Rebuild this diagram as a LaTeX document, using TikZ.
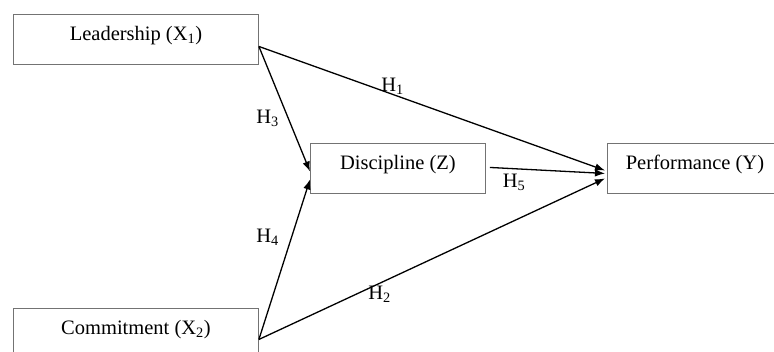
\documentclass[tikz,border=0pt]{standalone}
\usepackage{fontspec}
\setmainfont{Liberation Serif}
\usetikzlibrary{arrows.meta}
\begin{document}
\begin{tikzpicture}[x=1pt,y=-1pt,
  box/.style={draw=black!55, line width=0.9pt, fill=white, inner xsep=0pt, inner ysep=0pt,
    text height=26pt, text depth=24pt, minimum height=50pt, anchor=north west,
    font=\fontsize{20.5}{24}\selectfont},
  conn/.style={line width=1.3pt, -{Latex[length=10pt,width=7.5pt]}},
  hlab/.style={anchor=base, inner sep=0pt, font=\fontsize{20.5}{24}\selectfont}]
\useasboundingbox (0,0) rectangle (774,351);
\clip (0,0) rectangle (774,351);
\node[box, minimum width=245pt] (lead) at (13,14) {Leadership (X\textsubscript{1})};
\node[box, minimum width=245pt] (comm) at (13,308) {Commitment (X\textsubscript{2})};
\node[box, minimum width=175pt] (disc) at (310,143) {Discipline (Z)};
\node[box, minimum width=175pt] (perf) at (607,143) {Performance (Y)};
\coordinate (ls) at ([yshift=-7pt]lead.east);
\coordinate (cs) at ([yshift=-6pt]comm.east);
\draw[conn] (ls) -- ([yshift=-3pt]disc.west);
\draw[conn] (ls) -- ([xshift=-2pt,yshift=-2pt]perf.west);
\draw[conn] (cs) -- ([yshift=-11pt]disc.west);
\draw[conn] (cs) -- ([xshift=-2pt,yshift=-10pt]perf.west);
\draw[conn] ([xshift=4pt,yshift=1pt]disc.east) -- ([xshift=-2pt,yshift=-5pt]perf.west);
\node[hlab] (h1) at (392.5,91) {H\textsubscript{1}};
\node[hlab] (h3) at (267.5,123) {H\textsubscript{3}};
\node[hlab] (h4) at (267.5,242) {H\textsubscript{4}};
\node[hlab] (h2) at (379.5,299) {H\textsubscript{2}};
\node[hlab] (h5) at (514,187) {H\textsubscript{5}};
\end{tikzpicture}
\end{document}
